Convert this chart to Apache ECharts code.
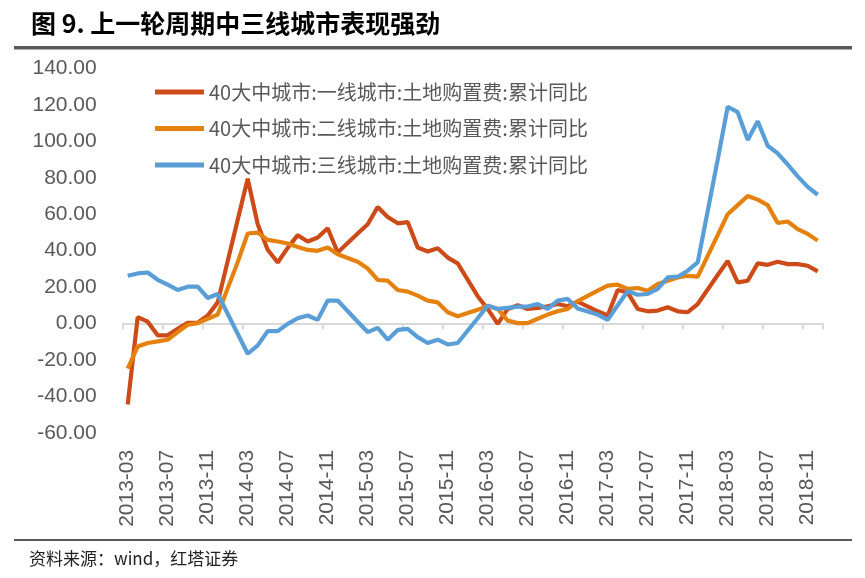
<!DOCTYPE html>
<html>
<head>
<meta charset="utf-8">
<script src="https://cdn.jsdelivr.net/npm/echarts@6/dist/echarts.min.js"></script>
<style>
html,body{margin:0;padding:0;background:#fff;}
#chart{width:865px;height:578px;}
</style>
</head>
<body>
<div id="chart"></div>
<script>
var months = [
 '2013-03','2013-04','2013-05','2013-06','2013-07','2013-08','2013-09','2013-10','2013-11','2013-12',
 '2014-01','2014-02','2014-03','2014-04','2014-05','2014-06','2014-07','2014-08','2014-09','2014-10','2014-11','2014-12',
 '2015-01','2015-02','2015-03','2015-04','2015-05','2015-06','2015-07','2015-08','2015-09','2015-10','2015-11','2015-12',
 '2016-01','2016-02','2016-03','2016-04','2016-05','2016-06','2016-07','2016-08','2016-09','2016-10','2016-11','2016-12',
 '2017-01','2017-02','2017-03','2017-04','2017-05','2017-06','2017-07','2017-08','2017-09','2017-10','2017-11','2017-12',
 '2018-01','2018-02','2018-03','2018-04','2018-05','2018-06','2018-07','2018-08','2018-09','2018-10','2018-11','2018-12'
];
var seriesNames = [
 '40大中城市:一线城市:土地购置费:累计同比',
 '40大中城市:二线城市:土地购置费:累计同比',
 '40大中城市:三线城市:土地购置费:累计同比'
];
var tier1 = [
 -44.5, 3.5, 1.0, -6.5, -6.5, -2.9, 0.4, 0.4, 4.4, 11.6,
 null, 57, 79.5, 54.5, 40.5, 33.5, 41.5, 48.5, 45, 47.2, 52.3, 39,
 null, 49.4, 54.5, 64, 58.5, 55, 55.7, 41.7, 39.5, 41.3, 36.2, 33,
 null, 15, 8, -0.2, 8, 10, 8, 8.5, 9.5, 10.7, 9.5, 12,
 null, 6.7, 4.4, 18.4, 17, 8, 6.7, 7.1, 8.9, 6.7, 6.2, 10.7,
 null, 26.6, 34.4, 22.6, 23.5, 33, 32.2, 33.9, 32.6, 32.6, 31.7, 28.6
];
var tier2 = [
 -24.8, -12.6, -10.7, -9.8, -8.9, -4.7, -0.7, 0.2, 2.6, 4.9,
 null, 33.7, 49.4, 49.9, 45.9, 45, 43.9, 42, 40.4, 39.9, 41.7, 38,
 null, 33.9, 30.2, 23.9, 23.5, 18.4, 17.5, 15.3, 12.6, 11.6, 6.2, 4,
 null, 7.5, 9.8, 8, 1.6, 0.2, 0.2, 2.6, 4.9, 6.7, 8, 12.3,
 null, 18, 20.8, 21.3, 19, 19.5, 18, 21.7, 23.5, 25.3, 26.2, 25.7,
 null, 48.5, 60, 65, 70, 68, 65, 55.2, 56, 51.8, 49.2, 45.5
];
var tier3 = [
 26.2, 27.5, 28, 24, 21.3, 18.4, 20.2, 20.2, 14, 16.2,
 null, -5.6, -16.6, -12, -4.2, -4.2, -0.2, 2.9, 4.4, 2, 12.6, 12.6,
 null, 1, -4.7, -2.4, -8.9, -3.5, -2.9, -7.5, -10.7, -8.9, -11.5, -10.7,
 null, 2.9, 9.8, 8, 8.6, 9.3, 9.3, 10.7, 8, 12.6, 13.5, 8.3,
 null, 4.9, 2, 10, 17.7, 15.8, 16.2, 19, 25.3, 25.7, 29, 33.5,
 null, 90, 119, 116, 100.8, 111, 97.6, 93.4, 87.3, 80.8, 75, 70.7
];
var yTicks = {min: -60, max: 140, interval: 20};
var colors = ['#CD4A19', '#E5820F', '#5A9ED8'];
var titleText = '图 9. 上一轮周期中三线城市表现强劲';
var sourceText = '资料来源：wind，红塔证券';

var chart = echarts.init(document.getElementById('chart'), null, {renderer: 'canvas'});
var values = [tier1, tier2, tier3];
var series = values.map(function (d, k) {
  return {
    name: seriesNames[k],
    type: 'line',
    xAxisIndex: 0,
    yAxisIndex: 0,
    data: d,
    connectNulls: true,
    showSymbol: false,
    symbol: 'none',
    smooth: false,
    lineStyle: {width: 4.2, color: colors[k]},
    itemStyle: {color: colors[k]},
    z: 2 + k
  };
});

chart.setOption({
  animation: false,
  backgroundColor: '#ffffff',
  color: colors,
  grid: {left: 122.7, right: 42.3, top: 68.5, bottom: 145.2, containLabel: false},
  legend: {
    data: seriesNames,
    orient: 'vertical',
    left: 150,
    top: 77,
    icon: 'rect',
    itemWidth: 49,
    itemHeight: 5,
    itemGap: 16.5,
    textStyle: {fontSize: 20, color: '#595959', fontFamily: 'Noto Sans CJK SC', lineHeight: 20}
  },
  xAxis: [
    {
      type: 'category',
      data: months,
      position: 'bottom',
      boundaryGap: true,
      axisLine: {show: false, onZero: false},
      axisTick: {show: false},
      axisLabel: {
        interval: 3,
        rotate: 90,
        margin: 17,
        fontSize: 21,
        color: '#595959',
        fontFamily: 'Liberation Sans'
      },
      splitLine: {show: false}
    },
    {
      type: 'category',
      data: months,
      position: 'bottom',
      boundaryGap: true,
      axisLine: {show: true, onZero: true, lineStyle: {color: '#D9D9D9', width: 2}},
      axisTick: {show: true, interval: 3, length: 6, lineStyle: {color: '#D9D9D9', width: 2}},
      axisLabel: {show: false},
      splitLine: {show: false}
    }
  ],
  yAxis: {
    type: 'value',
    min: yTicks.min,
    max: yTicks.max,
    interval: yTicks.interval,
    axisLine: {show: false},
    axisTick: {show: false},
    splitLine: {show: false},
    axisLabel: {
      margin: 26,
      fontSize: 21,
      color: '#595959',
      fontFamily: 'Liberation Sans',
      formatter: function (v) { return v.toFixed(2); }
    }
  },
  graphic: [
    {type: 'text', left: 31, top: 11, style: {text: titleText, font: 'bold 25px "Noto Sans CJK SC"', fill: '#000000'}},
    {type: 'rect', shape: {x: 14, y: 46, width: 838, height: 3.5}, style: {fill: '#5a5a5a'}},
    {type: 'rect', shape: {x: 14, y: 539, width: 838, height: 2}, style: {fill: '#5a5a5a'}},
    {type: 'text', left: 29, top: 550, style: {text: sourceText, font: '17px "Noto Sans CJK SC"', fill: '#222222'}}
  ],
  series: series
});
</script>
</body>
</html>
